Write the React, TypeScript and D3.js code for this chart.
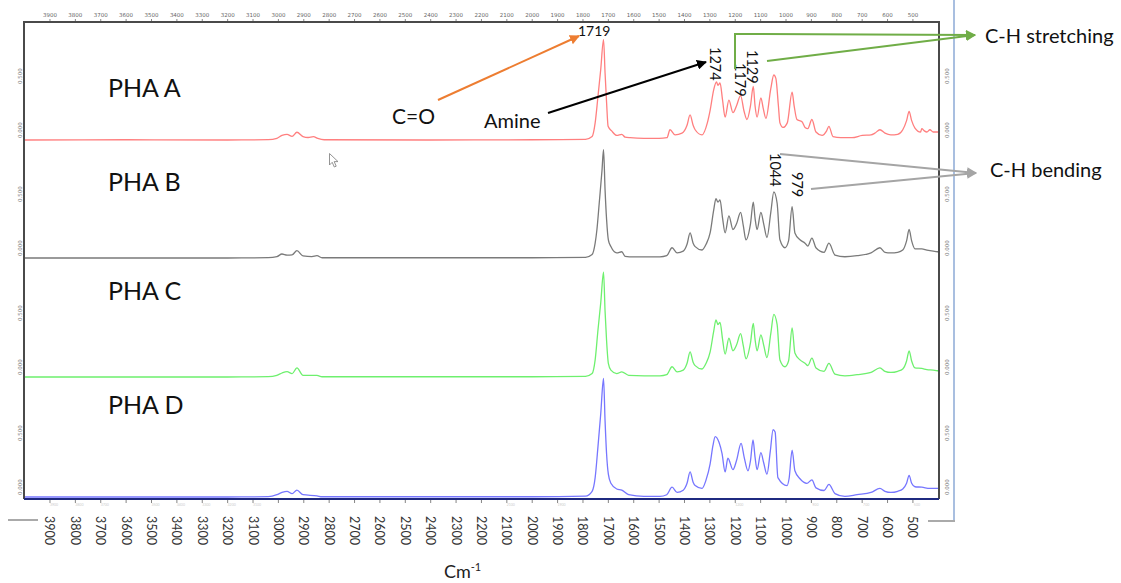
import React from 'react';
import * as d3 from 'd3';

type Pt = [number, number];

const TICKS: number[] = [3900, 3800, 3700, 3600, 3500, 3400, 3300, 3200, 3100, 3000, 2900, 2800, 2700, 2600, 2500, 2400, 2300, 2200, 2100, 2000, 1900, 1800, 1700, 1600, 1500, 1400, 1300, 1200, 1100, 1000, 900, 800, 700, 600, 500];
const FAINT_TICKS: number[] = [3900, 3800, 3700, 3500, 3400, 3300, 3200, 3100, 2100, 1900, 1200, 900, 700, 500];
const Y_TICKS: number[] = [0, 0.5];
const PANEL_NAMES: string[] = ['PHA A', 'PHA B', 'PHA C', 'PHA D'];
const PANEL_COLORS: string[] = ['#ff7f7f', '#7a7a7a', '#6ef06e', '#7676ff'];

const PHA_A: Pt[] = [[4000,0],[3600,0.002],[3200,0],[3040,0.003],[3006,0.015],[2986,0.04],[2966,0.05],[2946,0.032],[2927,0.068],[2903,0.03],[2883,0.022],[2862,0.03],[2845,0.014],[2820,0.002],[2400,0],[2000,0.002],[1790,0.005],[1764,0.03],[1752,0.15],[1741,0.38],[1730,0.62],[1719,0.88],[1713,0.59],[1707,0.33],[1701,0.12],[1687,0.08],[1667,0.04],[1647,0.05],[1634,0.025],[1614,0.02],[1560,0.015],[1500,0.015],[1469,0.02],[1457,0.09],[1437,0.045],[1410,0.06],[1390,0.13],[1378,0.22],[1366,0.13],[1358,0.09],[1331,0.045],[1310,0.15],[1299,0.26],[1285,0.44],[1274,0.51],[1268,0.48],[1260,0.5],[1250,0.35],[1240,0.2],[1225,0.35],[1209,0.24],[1195,0.3],[1179,0.39],[1165,0.25],[1154,0.18],[1140,0.3],[1129,0.47],[1122,0.3],[1114,0.2],[1099,0.37],[1090,0.28],[1079,0.19],[1060,0.45],[1048,0.57],[1040,0.54],[1030,0.3],[1024,0.15],[1012,0.11],[995,0.15],[976,0.42],[968,0.3],[957,0.18],[937,0.16],[925,0.11],[914,0.1],[898,0.18],[882,0.07],[858,0.04],[840,0.08],[831,0.12],[815,0.03],[784,0.02],[740,0.02],[700,0.04],[665,0.045],[650,0.06],[630,0.09],[610,0.06],[587,0.045],[560,0.05],[540,0.09],[525,0.17],[515,0.25],[505,0.17],[492,0.105],[470,0.07],[465,0.1],[455,0.08],[445,0.07],[433,0.09],[420,0.07],[404,0.07],[400,0.07]];

const PHA_B: Pt[] = [[4000,0],[3200,0],[3040,0.003],[3006,0.012],[2986,0.035],[2966,0.026],[2946,0.028],[2927,0.064],[2903,0.018],[2868,0.012],[2848,0.02],[2828,0.002],[2000,0.002],[1790,0.005],[1764,0.03],[1752,0.13],[1745,0.25],[1736,0.48],[1725,0.77],[1719,0.95],[1713,0.6],[1707,0.34],[1700,0.16],[1690,0.1],[1667,0.045],[1647,0.055],[1634,0.015],[1600,0.01],[1497,0.01],[1470,0.02],[1449,0.09],[1429,0.045],[1405,0.06],[1390,0.12],[1378,0.22],[1366,0.13],[1358,0.1],[1331,0.07],[1315,0.12],[1299,0.22],[1285,0.42],[1276,0.52],[1268,0.49],[1260,0.51],[1250,0.35],[1240,0.22],[1225,0.37],[1209,0.25],[1195,0.3],[1179,0.4],[1168,0.28],[1158,0.16],[1140,0.3],[1129,0.49],[1122,0.35],[1114,0.25],[1099,0.4],[1088,0.3],[1075,0.18],[1060,0.4],[1048,0.58],[1035,0.48],[1024,0.16],[1004,0.09],[990,0.15],[976,0.45],[965,0.22],[945,0.16],[925,0.13],[914,0.105],[898,0.175],[882,0.09],[850,0.05],[831,0.13],[807,0.026],[768,0.011],[720,0.02],[665,0.045],[630,0.09],[610,0.05],[587,0.045],[560,0.05],[540,0.07],[525,0.15],[515,0.25],[505,0.15],[492,0.08],[465,0.08],[445,0.07],[420,0.06],[404,0.055],[400,0.055]];

const PHA_C: Pt[] = [[4000,0],[3200,0],[3040,0.003],[3006,0.015],[2986,0.035],[2966,0.047],[2946,0.03],[2927,0.08],[2903,0.015],[2868,0.015],[2848,0.015],[2828,0.002],[2000,0.002],[1790,0.005],[1764,0.03],[1752,0.15],[1741,0.41],[1730,0.65],[1719,0.92],[1713,0.58],[1707,0.32],[1700,0.12],[1690,0.06],[1667,0.03],[1647,0.045],[1620,0.015],[1497,0.01],[1470,0.02],[1449,0.09],[1429,0.045],[1405,0.06],[1390,0.12],[1378,0.22],[1366,0.13],[1358,0.1],[1331,0.07],[1315,0.12],[1299,0.22],[1285,0.4],[1276,0.5],[1268,0.46],[1260,0.48],[1250,0.33],[1240,0.2],[1225,0.34],[1209,0.23],[1195,0.28],[1179,0.38],[1168,0.27],[1158,0.16],[1140,0.3],[1129,0.47],[1122,0.33],[1114,0.23],[1099,0.37],[1088,0.28],[1075,0.17],[1060,0.38],[1048,0.55],[1035,0.46],[1024,0.15],[1004,0.09],[990,0.14],[976,0.43],[965,0.21],[945,0.15],[925,0.12],[914,0.1],[898,0.165],[882,0.08],[850,0.05],[831,0.12],[807,0.025],[768,0.01],[720,0.02],[665,0.04],[630,0.08],[610,0.05],[587,0.04],[560,0.05],[540,0.07],[525,0.14],[515,0.23],[505,0.14],[492,0.08],[465,0.075],[445,0.065],[420,0.06],[404,0.055],[400,0.055]];

const PHA_D: Pt[] = [[4000,0],[3200,0],[3040,0.003],[3006,0.02],[2986,0.04],[2966,0.05],[2946,0.03],[2927,0.06],[2903,0.02],[2848,0.01],[2828,0.002],[2000,0.002],[1790,0.008],[1764,0.05],[1752,0.17],[1741,0.44],[1730,0.73],[1719,1.04],[1713,0.67],[1707,0.38],[1700,0.2],[1690,0.12],[1667,0.07],[1647,0.06],[1620,0.02],[1560,0.005],[1497,0.005],[1470,0.02],[1449,0.086],[1429,0.04],[1405,0.06],[1390,0.12],[1378,0.22],[1366,0.13],[1358,0.1],[1331,0.075],[1315,0.15],[1299,0.29],[1288,0.45],[1279,0.53],[1264,0.48],[1252,0.38],[1240,0.22],[1229,0.34],[1209,0.24],[1195,0.32],[1177,0.47],[1165,0.35],[1150,0.23],[1140,0.32],[1130,0.5],[1122,0.35],[1114,0.24],[1099,0.39],[1088,0.3],[1075,0.2],[1062,0.4],[1051,0.59],[1043,0.57],[1032,0.17],[996,0.1],[988,0.16],[976,0.41],[965,0.23],[945,0.16],[918,0.12],[898,0.15],[882,0.08],[850,0.057],[831,0.11],[807,0.03],[768,0.005],[720,0.02],[665,0.04],[630,0.075],[610,0.05],[587,0.04],[560,0.05],[540,0.07],[525,0.12],[515,0.19],[505,0.12],[492,0.09],[465,0.086],[433,0.075],[404,0.075],[400,0.075]];

const SERIES: Pt[][] = [PHA_A, PHA_B, PHA_C, PHA_D];

const FONT = 'Lato, "Open Sans", sans-serif';

export default function App() {
  const W = 1121, H = 583;
  const frame = { left: 24, top: 22, right: 939, bottom: 499 };
  const x = d3.scaleLinear().domain([4000, 400]).range([24.6, 938.3]);
  const baselines = [140, 258, 377, 497];
  const unit = 114;
  const yScales = baselines.map((b) => d3.scaleLinear().domain([0, 1]).range([b, b - unit]));

  const paths = SERIES.map((s, i) => {
    const ys = yScales[i];
    const line = d3.line<Pt>().x((d) => x(d[0])).y((d) => ys(d[1])).curve(d3.curveMonotoneX);
    return line(s) || '';
  });

  const panelLabelY = [97, 191, 300, 414];

  return (
    <svg width={W} height={H} style={{ position: 'absolute', left: 0, top: 0, background: '#fff' }} fontFamily={FONT}>
      <defs>
        <marker id="arrOrange" viewBox="0 0 10 10" refX="9" refY="5" markerWidth="5" markerHeight="5" orient="auto">
          <path d="M0,0 L10,5 L0,10 Z" fill="#ed7d31" />
        </marker>
        <marker id="arrBlack" viewBox="0 0 10 10" refX="9" refY="5" markerWidth="5" markerHeight="5" orient="auto">
          <path d="M0,0 L10,5 L0,10 Z" fill="#000" />
        </marker>
        <marker id="arrGreen" viewBox="0 0 10 10" refX="9" refY="5" markerWidth="5" markerHeight="5" orient="auto">
          <path d="M0,0 L10,5 L0,10 Z" fill="#70ad47" />
        </marker>
        <marker id="arrGray" viewBox="0 0 10 10" refX="9" refY="5" markerWidth="5" markerHeight="5" orient="auto">
          <path d="M0,0 L10,5 L0,10 Z" fill="#a5a5a5" />
        </marker>
      </defs>

      <line x1={954} x2={954} y1={0} y2={521} stroke="#a9bfe0" strokeWidth={2} />
      <line x1={8} x2={38} y1={520} y2={520} stroke="#aaaaaa" strokeWidth={2} />
      <line x1={928} x2={955} y1={521} y2={521} stroke="#aaaaaa" strokeWidth={2} />

      {TICKS.map((t) => (
        <g key={'tt' + t}>
          <line x1={x(t)} x2={x(t)} y1={frame.top - 3} y2={frame.top} stroke="#666" strokeWidth={0.8} />
          <text x={x(t)} y={frame.top - 5} fontSize={5.5} fill="#666" textAnchor="middle" fontFamily="'DejaVu Sans', sans-serif">{t}</text>
        </g>
      ))}

      {TICKS.map((t) => (
        <g key={'bt' + t}>
          <line x1={x(t)} x2={x(t)} y1={frame.bottom} y2={frame.bottom + 4} stroke="#666" strokeWidth={0.8} />
          <text transform={`translate(${x(t)},${516}) rotate(90)`} fontSize={12.5} fill="#333" textAnchor="start" dominantBaseline="central">{t}</text>
        </g>
      ))}
      {FAINT_TICKS.map((t) => (
        <text key={'ft' + t} x={x(t) + 4} y={frame.bottom + 7} fontSize={3.5} fill="#cccccc" textAnchor="middle">{t}</text>
      ))}

      {baselines.map((b, i) => (
        <g key={'yl' + i}>
          {Y_TICKS.map((v) => {
            const cy = b - 10 - v * 108;
            return (
              <g key={'v' + v}>
                <text transform={`translate(19.5,${cy}) rotate(-90)`} fontSize={5.5} fill="#888" textAnchor="middle" dominantBaseline="central" fontFamily="'DejaVu Sans', sans-serif">{v.toFixed(3)}</text>
                <text transform={`translate(946.5,${cy}) rotate(-90)`} fontSize={5.5} fill="#888" textAnchor="middle" dominantBaseline="central" fontFamily="'DejaVu Sans', sans-serif">{v.toFixed(3)}</text>
              </g>
            );
          })}
        </g>
      ))}

      {paths.map((p, i) => (
        <path key={'s' + i} d={p} fill="none" stroke={PANEL_COLORS[i]} strokeWidth={1.3} strokeLinejoin="round" />
      ))}

      <path d={`M${frame.left},${frame.bottom} L${frame.left},${frame.top} L${frame.right},${frame.top} L${frame.right},${frame.bottom}`} fill="none" stroke="#4a4a4a" strokeWidth={2} />
      <line x1={frame.left} x2={frame.right} y1={frame.bottom} y2={frame.bottom} stroke="#1f2a80" strokeWidth={2} />

      {PANEL_NAMES.map((n, i) => (
        <text key={n} x={108} y={panelLabelY[i]} fontSize={25} fill="#111">{n}</text>
      ))}

      <text x={444} y={578} fontSize={18} fill="#222">Cm<tspan dy={-7} fontSize={11}>-1</tspan></text>

      <text x={578} y={36} fontSize={14} fill="#111">1719</text>
      <line x1={438} x2={579} y1={100} y2={36} stroke="#ed7d31" strokeWidth={2} markerEnd="url(#arrOrange)" />
      <text x={392} y={124} fontSize={21} fill="#111">C=O</text>

      <text x={484} y={128} fontSize={20} fill="#111">Amine</text>
      <line x1={548} x2={706} y1={113} y2={62} stroke="#000" strokeWidth={2} markerEnd="url(#arrBlack)" />

      <text transform="translate(710,47) rotate(90)" fontSize={14.5} fill="#111">1274</text>
      <text transform="translate(735,63) rotate(90)" fontSize={14.5} fill="#111">1179</text>
      <text transform="translate(747,50) rotate(90)" fontSize={14.5} fill="#111">1129</text>

      <polyline points="735,69 735,34 975,35" fill="none" stroke="#70ad47" strokeWidth={2} markerEnd="url(#arrGreen)" />
      <line x1={767} x2={975} y1={61} y2={35} stroke="#70ad47" strokeWidth={2} markerEnd="url(#arrGreen)" />
      <text x={985} y={43} fontSize={20} fill="#111">C-H stretching</text>

      <text transform="translate(770,153) rotate(90)" fontSize={14.5} fill="#111">1044</text>
      <text transform="translate(792,172) rotate(90)" fontSize={14.5} fill="#111">979</text>
      <line x1={780} x2={976} y1={154} y2={173} stroke="#a5a5a5" strokeWidth={2} markerEnd="url(#arrGray)" />
      <line x1={811} x2={976} y1={189} y2={173} stroke="#a5a5a5" strokeWidth={2} markerEnd="url(#arrGray)" />
      <text x={990} y={177} fontSize={20} fill="#111">C-H bending</text>

      <path d="M329.5,153.5 L329.5,165 L332.2,162.3 L334.3,167 L336.2,166.2 L334.2,161.6 L338,161.6 Z" fill="#fff" stroke="#888" strokeWidth={0.9} />
    </svg>
  );
}
